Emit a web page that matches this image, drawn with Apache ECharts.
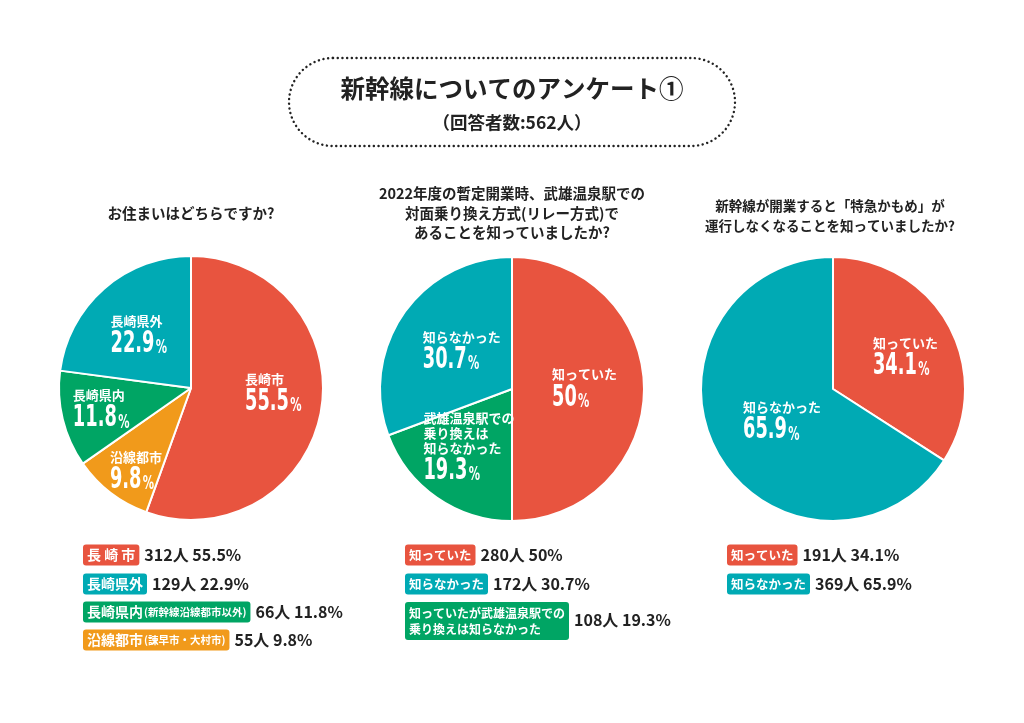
<!DOCTYPE html>
<html><head><meta charset="utf-8">
<script src="https://cdn.jsdelivr.net/npm/echarts@6/dist/echarts.min.js"></script>
<style>html,body{margin:0;padding:0;background:#fff;}#c{width:1024px;height:723px;}</style>
</head><body><div id="c"></div>
<script>
// ---- data ----
const titleText = '新幹線についてのアンケート①';
const subtitleText = '（回答者数:562人）';

const q1Title = 'お住まいはどちらですか?';
const q1Names = ['長崎市', '長崎県外', '長崎県内', '沿線都市'];
const q1LegendNames = ['長 崎 市', '長崎県外', '長崎県内', '沿線都市'];
const q1Notes = ['', '', '(新幹線沿線都市以外)', '(諫早市・大村市)'];
const q1Counts = [312, 129, 66, 55];
const q1Pct = [55.5, 22.9, 11.8, 9.8];
const q1PieOrder = [0, 3, 2, 1];

const q2Title = '2022年度の暫定開業時、武雄温泉駅での\n対面乗り換え方式(リレー方式)で\nあることを知っていましたか?';
const q2Names = ['知っていた', '知らなかった', '武雄温泉駅での\n乗り換えは\n知らなかった'];
const q2LegendNames = ['知っていた', '知らなかった', '知っていたが武雄温泉駅での\n乗り換えは知らなかった'];
const q2Counts = [280, 172, 108];
const q2Pct = [50, 30.7, 19.3];
const q2PieOrder = [0, 2, 1];

const q3Title = '新幹線が開業すると「特急かもめ」が\n運行しなくなることを知っていましたか?';
const q3Names = ['知っていた', '知らなかった'];
const q3LegendNames = ['知っていた', '知らなかった'];
const q3Counts = [191, 369];
const q3Pct = [34.1, 65.9];
const q3PieOrder = [0, 1];

// ---- styles ----
const RED = '#E8543F', TEAL = '#00AAB4', GREEN = '#00A564', ORANGE = '#F19A1B';
const q1Colors = [RED, TEAL, GREEN, ORANGE];
const q2Colors = [RED, TEAL, GREEN];
const q3Colors = [RED, TEAL];
const JP = '"Noto Sans CJK JP","Noto Sans",sans-serif';
const COND = '"DejaVu Sans Condensed","DejaVu Sans",sans-serif';

// label offsets (left edge / vertical centre relative to the library's inside-label anchor), in pie order
const labelOffsets = [
  [[-11, -9], [-41, 28], [-54, 3], [-37, -6]],
  [[-26, -3], [-51, 1], [-35, -3]],
  [[-18, -3], [-32, -2]]
];

function pieSeries(center, names, pcts, colors, order) {
  return {
    type: 'pie', center: center, radius: 132, startAngle: 90, clockwise: true, z: 2,
    silent: true, animation: false, avoidLabelOverlap: false,
    itemStyle: {borderColor: '#fff', borderWidth: 2},
    labelLine: {show: false},
    label: {show: false},
    data: order.map(i => ({name: names[i], value: pcts[i], itemStyle: {color: colors[i]}}))
  };
}

function legendRow(x, y, color, label, note, value, fs) {
  const rich = {
    b: {backgroundColor: color, fill: '#fff', fontSize: fs, fontWeight: 'bold', fontFamily: JP,
        height: 15, lineHeight: 15, padding: note ? [3, 1, 3, 4] : [3, 4, 3, 4], borderRadius: note ? [3, 0, 0, 3] : 3},
    nt: {backgroundColor: color, fill: '#fff', fontSize: 10.5, fontWeight: 'bold', fontFamily: JP,
        height: 15, lineHeight: 15, padding: [3, 4, 3, 0], borderRadius: [0, 3, 3, 0]},
    v: {fill: '#222', fontSize: 16, fontWeight: 'bold', fontFamily: JP, padding: [0, 0, 0, 5]}
  };
  const text = '{b|' + label + '}' + (note ? '{nt|' + note + '}' : '') + '{v|' + value + '}';
  return {type: 'text', style: {x: x, y: y, text: text, rich: rich, align: 'left', verticalAlign: 'middle'}};
}

function measure(txt, font) {
  const c = document.createElement('canvas').getContext('2d');
  c.font = font;
  return Math.max.apply(null, txt.split('\n').map(l => c.measureText(l).width));
}

const graphics = [];
// title box
graphics.push({type: 'rect', shape: {x: 289, y: 58, width: 446, height: 88, r: 44},
  style: {fill: 'none', stroke: '#222', lineWidth: 2.4, lineDash: [0.1, 4.6], lineCap: 'round'}});
graphics.push({type: 'text', style: {x: 512, y: 89, text: titleText, align: 'center', verticalAlign: 'middle',
  font: 'bold 24.5px ' + JP, fill: '#222'}});
graphics.push({type: 'text', style: {x: 512, y: 122, text: subtitleText, align: 'center', verticalAlign: 'middle',
  font: 'bold 17.5px ' + JP, fill: '#222'}});
// question titles
graphics.push({type: 'text', style: {x: 191, y: 213, text: q1Title, align: 'center', verticalAlign: 'middle',
  font: 'bold 14.5px ' + JP, fill: '#222', lineHeight: 19}});
graphics.push({type: 'text', style: {x: 512, y: 213, text: q2Title, align: 'center', verticalAlign: 'middle',
  font: 'bold 14.5px ' + JP, fill: '#222', lineHeight: 19.5}});
graphics.push({type: 'text', style: {x: 830, y: 216, text: q3Title, align: 'center', verticalAlign: 'middle',
  font: 'bold 13.5px ' + JP, fill: '#222', lineHeight: 20}});

// legends
const rowY = [555, 584, 612, 640];
q1LegendNames.forEach((n, i) => {
  graphics.push(legendRow(83, rowY[i], q1Colors[i], n, q1Notes[i], q1Counts[i] + '人 ' + q1Pct[i] + '%', 14));
});
[0, 1].forEach(i => {
  graphics.push(legendRow(405, rowY[i], q2Colors[i], q2LegendNames[i], '', q2Counts[i] + '人 ' + q2Pct[i] + '%', 12.5));
  graphics.push(legendRow(727, rowY[i], q3Colors[i], q3LegendNames[i], '', q3Counts[i] + '人 ' + q3Pct[i] + '%', 12.5));
});
// two-line legend box for q2 item 3
(function () {
  const font = 'bold 12px ' + JP;
  const w = measure(q2LegendNames[2], font);
  graphics.push({type: 'text', style: {x: 405, y: 602, text: q2LegendNames[2], font: font, fill: '#fff',
    backgroundColor: GREEN, padding: [3, 4, 3, 4], borderRadius: 3, lineHeight: 16, align: 'left', verticalAlign: 'top'}});
  graphics.push({type: 'text', style: {x: 405 + w + 8 + 5, y: 620, text: q2Counts[2] + '人 ' + q2Pct[2] + '%',
    font: 'bold 16px ' + JP, fill: '#222', align: 'left', verticalAlign: 'middle'}});
})();

const chart = echarts.init(document.getElementById('c'), null, {renderer: 'canvas'});
chart.setOption({
  backgroundColor: '#fff',
  animation: false,
  graphic: graphics,
  series: [
    pieSeries([191, 388], q1Names, q1Pct, q1Colors, q1PieOrder),
    pieSeries([512, 389], q2Names, q2Pct, q2Colors, q2PieOrder),
    pieSeries([833, 389], q3Names, q3Pct, q3Colors, q3PieOrder)
  ]
});

// in-slice labels placed from the library's own sector layout (condensed numerals via scaleX)
const pieDefs = [[q1Names, q1Pct, q1PieOrder], [q2Names, q2Pct, q2PieOrder], [q3Names, q3Pct, q3PieOrder]];
const labelGraphics = [];
pieDefs.forEach((def, si) => {
  const data = chart.getModel().getSeriesByIndex(si).getData();
  data.each(function (idx) {
    const lay = data.getItemLayout(idx);
    const mid = (lay.startAngle + lay.endAngle) / 2;
    const rr = (lay.r + (lay.r0 || 0)) / 2;
    const ax = lay.cx + rr * Math.cos(mid), ay = lay.cy + rr * Math.sin(mid);
    const k = def[2][idx];
    const name = def[0][k], val = def[1][k];
    const nl = name.split('\n').length;
    const blockH = 15 * (nl - 1) + 38;
    const off = labelOffsets[si][idx];
    labelGraphics.push({
      type: 'group', x: ax + off[0], y: ay + off[1] - blockH / 2, silent: true, z: 100,
      children: [
        {type: 'text', z: 100, style: {x: 0, y: 0, text: name, font: 'bold 13px ' + JP, fill: '#fff', lineHeight: 15,
          align: 'left', verticalAlign: 'top'}},
        {type: 'text', z: 100, x: 0, y: 15 * (nl - 1) + 31, scaleX: 0.66,
          style: {x: 0, y: 0, text: '{p|' + val + '}{s|%}', align: 'left', verticalAlign: 'middle',
            rich: {
              p: {fontSize: 30, fontWeight: 'bold', fontFamily: COND, fill: '#fff', lineHeight: 30},
              s: {fontSize: 19, fontWeight: 'bold', fontFamily: COND, fill: '#fff', lineHeight: 30, padding: [8, 0, 0, 2]}
            }}}
      ]
    });
  });
});
chart.setOption({graphic: graphics.concat(labelGraphics)});
</script></body></html>
